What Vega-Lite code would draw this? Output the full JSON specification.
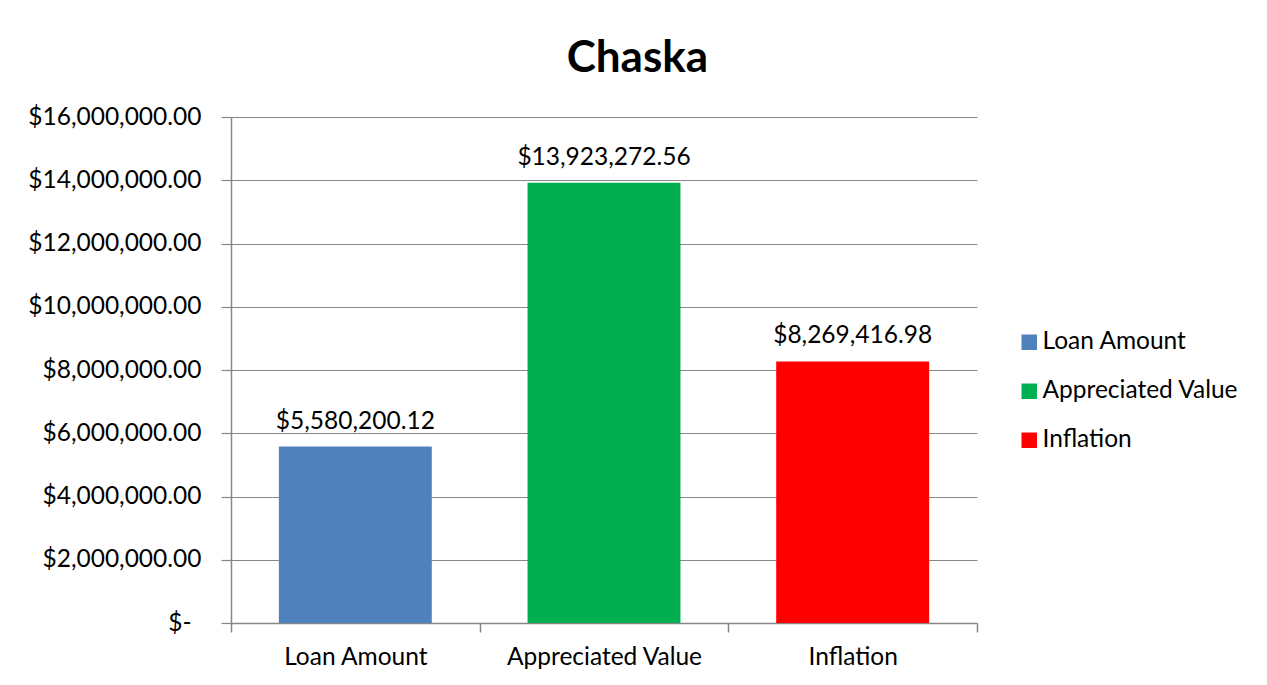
{
  "$schema": "https://vega.github.io/schema/vega-lite/v6.json",
  "width": 746,
  "height": 506,
  "autosize": {"type": "none"},
  "padding": {"left": 231, "top": 117, "right": 290, "bottom": 62},
  "background": "white",
  "title": {
    "text": "Chaska",
    "font": "Lato",
    "fontSize": 44,
    "fontWeight": "bold",
    "color": "black",
    "anchor": "middle",
    "frame": "bounds",
    "offset": 23,
    "dx": 4
  },
  "data": {
    "values": [
      {"category": "Loan Amount", "value": 5580200.12},
      {"category": "Appreciated Value", "value": 13923272.56},
      {"category": "Inflation", "value": 8269416.98}
    ]
  },
  "encoding": {
    "x": {
      "field": "category",
      "type": "nominal",
      "sort": null,
      "title": null,
      "scale": {"paddingInner": 0, "paddingOuter": 0},
      "axis": {
        "labelAngle": 0,
        "labelFont": "Lato",
        "labelFontSize": 24.5,
        "labelColor": "black",
        "labelPadding": 13,
        "labelLimit": 0,
        "tickBand": "extent",
        "tickSize": 9,
        "tickColor": "#868686",
        "domainColor": "#868686",
        "tickWidth": 1.5,
        "domainWidth": 1.5
      }
    },
    "y": {
      "field": "value",
      "type": "quantitative",
      "title": null,
      "scale": {"domain": [0, 16000000]},
      "axis": {
        "values": [0, 2000000, 4000000, 6000000, 8000000, 10000000, 12000000, 14000000, 16000000],
        "labelExpr": "datum.value == 0 ? '$-' : format(datum.value, '$,.2f')",
        "labelFont": "Lato",
        "labelFontSize": 24.5,
        "labelColor": "black",
        "labelLimit": 0,
        "labelPadding": {"condition": {"test": "datum.value == 0", "value": 30}, "value": 20},
        "tickSize": 10,
        "tickColor": "#868686",
        "domainColor": "#868686",
        "gridColor": "#868686",
        "grid": true,
        "tickWidth": 1.2,
        "domainWidth": 1.5,
        "gridWidth": 1.2
      }
    }
  },
  "layer": [
    {
      "mark": {"type": "bar", "width": {"band": 0.615}},
      "encoding": {
        "color": {
          "field": "category",
          "type": "nominal",
          "sort": null,
          "scale": {
            "domain": ["Loan Amount", "Appreciated Value", "Inflation"],
            "range": ["#4F81BD", "#00B050", "#FF0000"]
          },
          "legend": {
            "title": null,
            "orient": "none",
            "legendX": 786,
            "legendY": 213,
            "symbolType": "square",
            "symbolSize": 240,
            "symbolStrokeWidth": 0,
            "labelFont": "Lato",
            "labelFontSize": 24.5,
            "labelColor": "black",
            "labelLimit": 0,
            "rowPadding": 24,
            "labelOffset": 1
          }
        }
      }
    },
    {
      "mark": {"type": "text", "baseline": "bottom", "dy": -13, "font": "Lato", "fontSize": 24.5, "color": "black"},
      "encoding": {
        "text": {"field": "value", "type": "quantitative", "format": "$,.2f"}
      }
    }
  ],
  "config": {
    "view": {"stroke": null}
  }
}
